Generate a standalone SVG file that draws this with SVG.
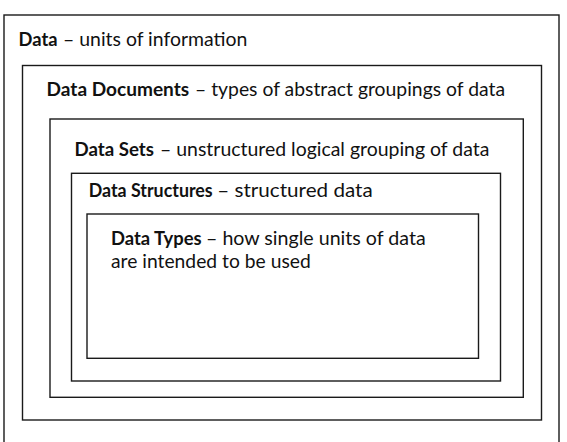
<svg xmlns="http://www.w3.org/2000/svg" width="567" height="442" viewBox="0 0 567 442">
<style>
.box{fill:none;stroke:#1a1a1a;stroke-width:1.4}
.t{font-family:Lato,"Open Sans","Liberation Sans",sans-serif;font-size:18.3px;fill:#111}
.b{font-weight:bold}
</style>
<rect x="0" y="0" width="567" height="442" fill="#fff"/>
<g id="data">
<rect class="box" x="4" y="15" width="555" height="445"/>
<text class="t b" x="18.5" y="46" textLength="39" lengthAdjust="spacingAndGlyphs">Data</text>
<text class="t" x="63" y="46" textLength="184.3" lengthAdjust="spacingAndGlyphs">– units of information</text>
</g>
<g id="data-documents">
<rect class="box" x="22.5" y="65.5" width="519" height="354.5"/>
<text class="t b" x="46.5" y="95.5" textLength="142.7" lengthAdjust="spacingAndGlyphs">Data Documents</text>
<text class="t" x="195" y="95.5" textLength="310" lengthAdjust="spacingAndGlyphs">– types of abstract groupings of data</text>
</g>
<g id="data-sets">
<rect class="box" x="50" y="119" width="473.3" height="278.3"/>
<text class="t b" x="74.5" y="155.5" textLength="79.5" lengthAdjust="spacingAndGlyphs">Data Sets</text>
<text class="t" x="160" y="155.5" textLength="329.3" lengthAdjust="spacingAndGlyphs">– unstructured logical grouping of data</text>
</g>
<g id="data-structures">
<rect class="box" x="71.5" y="173.3" width="429" height="207.7"/>
<text class="t b" x="88.7" y="196.5" textLength="124" lengthAdjust="spacingAndGlyphs">Data Structures</text>
<text class="t" x="217.3" y="196.5" textLength="155.4" lengthAdjust="spacingAndGlyphs">– structured data</text>
</g>
<g id="data-types">
<rect class="box" x="87" y="214" width="391.5" height="144.3"/>
<text class="t b" x="111" y="244.5" textLength="90.7" lengthAdjust="spacingAndGlyphs">Data Types</text>
<text class="t" x="206" y="244.5" textLength="219.7" lengthAdjust="spacingAndGlyphs">– how single units of data</text>
<text class="t" x="111" y="268" textLength="199.7" lengthAdjust="spacingAndGlyphs">are intended to be used</text>
</g>
<g id="connectors"></g>
</svg>
